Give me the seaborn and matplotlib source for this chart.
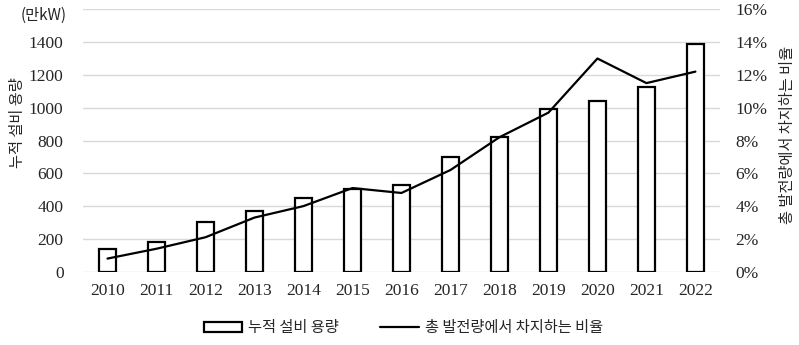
import numpy as np
import pandas as pd
import matplotlib
matplotlib.use("Agg")
import matplotlib.pyplot as plt
import seaborn as sns
from matplotlib.patches import Patch
from matplotlib.lines import Line2D

# Cumulative installed capacity (만kW) and share of total generation (%)
years = ["2010", "2011", "2012", "2013", "2014", "2015", "2016",
         "2017", "2018", "2019", "2020", "2021", "2022"]
capacity = [136, 183, 300, 371, 450, 507, 530, 700, 822, 990, 1039, 1126, 1388]
share_pct = [0.8, 1.4, 2.1, 3.3, 4.0, 5.1, 4.8, 6.2, 8.2, 9.7, 13.0, 11.5, 12.2]

left_ticks = [0, 200, 400, 600, 800, 1000, 1200, 1400]
right_ticks = [0, 2, 4, 6, 8, 10, 12, 14, 16]

bar_label = "누적 설비 용량"
line_label = "총 발전량에서 차지하는 비율"
unit_label = "(만kW)"

sns.set_theme(style="white")
plt.rcParams["font.family"] = ["Liberation Serif", "Noto Sans CJK KR"]
KR = ["Noto Sans CJK KR", "DejaVu Sans"]

df = pd.DataFrame({"year": years, "capacity": capacity, "share": share_pct})
df["pos"] = np.arange(len(df))

fig = plt.figure(figsize=(7.99, 3.45), dpi=100)
ax = fig.add_axes([0.1039, 0.2125, 0.7971, 0.7605])

sns.barplot(data=df, x="year", y="capacity", color="white", edgecolor="black",
            linewidth=1.6, width=0.35, saturation=1, ax=ax, zorder=3)
ax.set_ylim(0, 1600)
ax.set_xlim(-0.5, len(years) - 0.5)
# gridlines every 200 up to the top of the axis; the top line carries no label
ax.set_yticks(left_ticks + [1600])
ax.set_yticklabels([str(v) for v in left_ticks] + [""])
ax.grid(axis="y", color="#d9d9d9", linewidth=1.0, zorder=0)
ax.set_axisbelow(True)
for s in ax.spines.values():
    s.set_visible(False)
ax.tick_params(axis="y", length=0, pad=14, labelsize=12.5)
ax.tick_params(axis="x", length=0, pad=8, labelsize=12.5)
ax.set_xlabel("")
ax.set_ylabel(bar_label, family=KR, fontsize=11)
ax.yaxis.set_label_coords(-0.09, 0.57)

ax2 = ax.twinx()
sns.lineplot(data=df, x="pos", y="share", color="black", linewidth=1.6, ax=ax2)
ax2.set_ylim(0, 16)
ax2.set_xlim(-0.5, len(years) - 0.5)
ax2.set_yticks(right_ticks)
ax2.set_yticklabels([f"{v}%" for v in right_ticks])
for s in ax2.spines.values():
    s.set_visible(False)
ax2.tick_params(axis="y", length=0, pad=11, labelsize=12.5)
ax2.set_ylabel(line_label, family=KR, fontsize=11, rotation=90)
ax2.yaxis.set_label_coords(1.093, 0.52)
ax2.set_xlabel("")

fig.text(0.055, 0.955, unit_label, family=KR, fontsize=11, ha="center", va="center")

handles = [Patch(facecolor="white", edgecolor="black", linewidth=1.6),
           Line2D([0], [0], color="black", linewidth=1.6)]
fig.legend(handles, [bar_label, line_label], loc="center", bbox_to_anchor=(0.505, 0.05),
           ncol=2, frameon=False, prop={"family": KR, "size": 11},
           handlelength=2.5, handleheight=0.6, columnspacing=2.7, handletextpad=0.4)

fig.savefig("out.png", dpi=100)
